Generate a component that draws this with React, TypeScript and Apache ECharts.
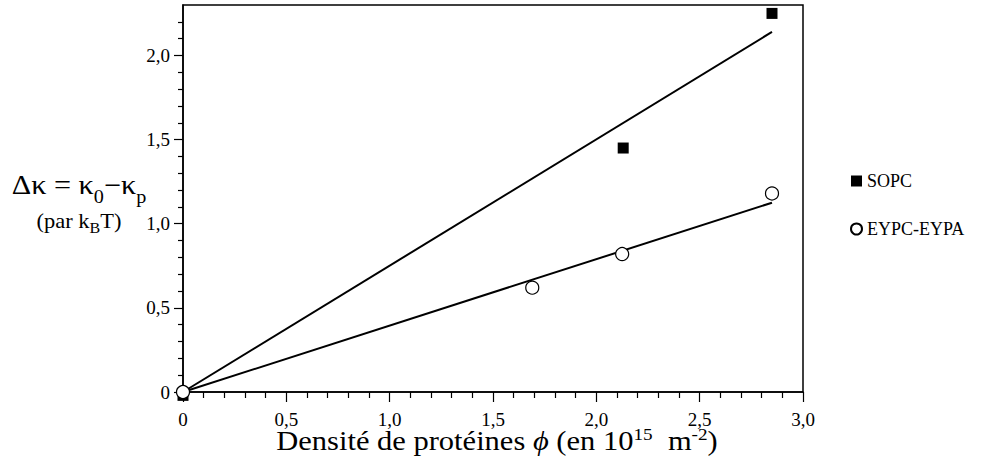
import React, { useEffect, useRef } from "react";
import * as echarts from "echarts";

const FONT = "Liberation Serif";

const xTickValues = [0, 0.5, 1.0, 1.5, 2.0, 2.5, 3.0];
const yTickValues = [0, 0.5, 1.0, 1.5, 2.0];
const yMinorTickValues = [0.1, 0.2, 0.3, 0.4, 0.6, 0.7, 0.8, 0.9, 1.1, 1.2, 1.3, 1.4, 1.6, 1.7, 1.8, 1.9, 2.1, 2.2];

const seriesNames = ["SOPC", "EYPC-EYPA"];
const sopcX = [0, 2.13, 2.85];
const sopcY = [-0.02, 1.45, 2.25];
const eypcX = [0, 1.69, 2.125, 2.85];
const eypcY = [0, 0.62, 0.82, 1.18];
const sopcFitX = [0, 2.85];
const sopcFitY = [0, 2.14];
const eypcFitX = [0, 2.85];
const eypcFitY = [0, 1.125];

const fmt = (v: number) => (v === 0 ? "0" : v.toFixed(1).replace(".", ","));
const zip = (xs: number[], ys: number[]) => xs.map((x, i) => [x, ys[i]]);

const black = "#000";

export default function App() {
  const ref = useRef<HTMLDivElement>(null);
  useEffect(() => {
    if (!ref.current) return;
    const chart = echarts.init(ref.current, null, { renderer: "svg" });
    const tickLine = { color: black, width: 1.2 };
    chart.setOption({
      animation: false,
      backgroundColor: "#fff",
      textStyle: { fontFamily: FONT },
      grid: {
        left: 183,
        right: 194,
        top: 5,
        bottom: 71,
        show: true,
        borderColor: black,
        borderWidth: 1.5,
        backgroundColor: "transparent",
      },
      xAxis: {
        type: "value",
        min: xTickValues[0],
        max: xTickValues[xTickValues.length - 1],
        interval: 0.5,
        axisLine: { show: true, onZero: false, lineStyle: { color: black, width: 1.5 } },
        axisTick: { show: true, length: 10, lineStyle: tickLine },
        minorTick: { show: true, splitNumber: 5, length: 6, lineStyle: tickLine },
        splitLine: { show: false },
        minorSplitLine: { show: false },
        axisLabel: { color: black, fontFamily: FONT, fontSize: 19, margin: 18, formatter: fmt },
      },
      yAxis: [
        {
          type: "value",
          min: 0,
          max: 2.3,
          position: "left",
          axisLine: { show: true, onZero: false, lineStyle: { color: black, width: 1.5 } },
          axisTick: { show: true, customValues: yTickValues, length: 9, lineStyle: tickLine },
          axisLabel: {
            show: true,
            customValues: yTickValues,
            color: black,
            fontFamily: FONT,
            fontSize: 19,
            margin: 13,
            formatter: fmt,
          },
          splitLine: { show: false },
        },
        {
          type: "value",
          min: 0,
          max: 2.3,
          position: "left",
          axisLine: { show: false },
          axisTick: { show: true, customValues: yMinorTickValues, length: 5, lineStyle: tickLine },
          axisLabel: { show: false },
          splitLine: { show: false },
        },
      ],
      legend: {
        data: seriesNames,
        orient: "vertical",
        left: 845,
        top: 167,
        itemWidth: 11,
        itemHeight: 11,
        itemGap: 30,
        textStyle: { color: black, fontFamily: FONT, fontSize: 18 },
      },
      graphic: [
        {
          type: "text",
          x: 79,
          y: 185,
          scaleX: 1.12,
          style: {
            text: "{m|Δκ = κ}{s|0}{m|−κ}{s|p}",
            align: "center",
            verticalAlign: "middle",
            fill: black,
            rich: {
              m: { fontFamily: FONT, fontSize: 27, lineHeight: 42, verticalAlign: "middle", fill: black },
              s: { fontFamily: FONT, fontSize: 18, lineHeight: 18, verticalAlign: "bottom", fill: black },
            },
          },
        },
        {
          type: "text",
          x: 79,
          y: 221,
          scaleX: 1.07,
          style: {
            text: "{m|(par k}{s|B}{m|T)}",
            align: "center",
            verticalAlign: "middle",
            fill: black,
            rich: {
              m: { fontFamily: FONT, fontSize: 21, lineHeight: 28, verticalAlign: "middle", fill: black },
              s: { fontFamily: FONT, fontSize: 15, lineHeight: 15, verticalAlign: "bottom", fill: black },
            },
          },
        },
        {
          type: "text",
          x: 497,
          y: 441,
          scaleX: 1.13,
          style: {
            text: "{m|Densité de protéines }{i|ϕ}{m| (en 10}{u|15}{m|  m}{u|-2}{m|)}",
            align: "center",
            verticalAlign: "middle",
            fill: black,
            rich: {
              m: { fontFamily: FONT, fontSize: 27, lineHeight: 30, verticalAlign: "middle", fill: black },
              i: { fontFamily: FONT, fontSize: 27, lineHeight: 30, fontStyle: "italic", verticalAlign: "middle", fill: black },
              u: { fontFamily: FONT, fontSize: 17, lineHeight: 17, verticalAlign: "top", fill: black },
            },
          },
        },
      ],
      series: [
        {
          name: "SOPC fit",
          type: "line",
          data: zip(sopcFitX, sopcFitY),
          showSymbol: false,
          symbol: "none",
          lineStyle: { color: black, width: 2 },
          z: 2,
          silent: true,
        },
        {
          name: "EYPC-EYPA fit",
          type: "line",
          data: zip(eypcFitX, eypcFitY),
          showSymbol: false,
          symbol: "none",
          lineStyle: { color: black, width: 2 },
          z: 2,
          silent: true,
        },
        {
          name: seriesNames[0],
          type: "scatter",
          data: zip(sopcX, sopcY),
          symbol: "rect",
          symbolSize: 11,
          clip: false,
          itemStyle: { color: black, opacity: 1 },
          z: 3,
        },
        {
          name: seriesNames[1],
          type: "scatter",
          data: zip(eypcX, eypcY),
          symbol: "circle",
          symbolSize: 13,
          clip: false,
          itemStyle: { color: "#fff", borderColor: black, borderWidth: 1.2, opacity: 1 },
          z: 4,
        },
      ],
    });
    return () => chart.dispose();
  }, []);
  return (
    <div
      ref={ref}
      style={{ position: "absolute", left: 0, top: 0, width: 997, height: 463 }}
    />
  );
}
